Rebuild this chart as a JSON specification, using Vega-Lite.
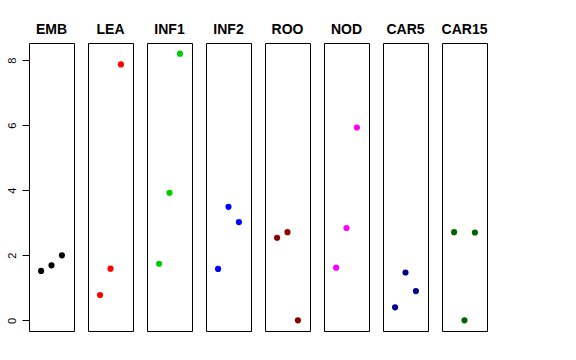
{
  "$schema": "https://vega.github.io/schema/vega-lite/v6.json",
  "padding": {"left": 6, "top": 23, "right": 5, "bottom": 5},
  "bounds": "flush",
  "background": "white",
  "data": {"values": [
    {"panel": "EMB", "x": 1, "y": 1.52},
    {"panel": "EMB", "x": 2, "y": 1.69},
    {"panel": "EMB", "x": 3, "y": 2.0},
    {"panel": "LEA", "x": 1, "y": 0.78},
    {"panel": "LEA", "x": 2, "y": 1.59},
    {"panel": "LEA", "x": 3, "y": 7.87},
    {"panel": "INF1", "x": 1, "y": 1.74},
    {"panel": "INF1", "x": 2, "y": 3.92},
    {"panel": "INF1", "x": 3, "y": 8.2},
    {"panel": "INF2", "x": 1, "y": 1.58},
    {"panel": "INF2", "x": 2, "y": 3.49},
    {"panel": "INF2", "x": 3, "y": 3.02},
    {"panel": "ROO", "x": 1, "y": 2.54},
    {"panel": "ROO", "x": 2, "y": 2.71},
    {"panel": "ROO", "x": 3, "y": 0.0},
    {"panel": "NOD", "x": 1, "y": 1.62},
    {"panel": "NOD", "x": 2, "y": 2.84},
    {"panel": "NOD", "x": 3, "y": 5.93},
    {"panel": "CAR5", "x": 1, "y": 0.40},
    {"panel": "CAR5", "x": 2, "y": 1.47},
    {"panel": "CAR5", "x": 3, "y": 0.90},
    {"panel": "CAR15", "x": 1, "y": 2.71},
    {"panel": "CAR15", "x": 2, "y": 0.0},
    {"panel": "CAR15", "x": 3, "y": 2.70}
  ]},
  "facet": {
    "column": {
      "field": "panel",
      "type": "nominal",
      "sort": ["EMB", "LEA", "INF1", "INF2", "ROO", "NOD", "CAR5", "CAR15"],
      "title": null,
      "header": {
        "labelFont": "Liberation Sans",
        "labelFontSize": 14,
        "labelFontWeight": "bold",
        "labelColor": "black",
        "labelPadding": -5,
        "labelBaseline": "alphabetic"
      }
    }
  },
  "spacing": 14,
  "spec": {
    "width": 45,
    "height": 288,
    "mark": {"type": "circle", "size": 38, "opacity": 1},
    "encoding": {
      "x": {"field": "x", "type": "quantitative", "scale": {"domain": [-0.16, 4.16], "nice": false, "zero": false}, "axis": null},
      "y": {
        "field": "y", "type": "quantitative",
        "scale": {"domain": [-0.328, 8.528], "nice": false, "zero": false},
        "axis": {
          "title": null, "values": [0, 2, 4, 6, 8], "grid": false, "domain": false,
          "tickSize": 7, "tickColor": "black", "labelColor": "black",
          "labelFont": "Liberation Sans", "labelFontSize": 11,
          "labelAngle": 270, "labelAlign": "center", "labelBaseline": "bottom",
          "labelPadding": 5
        }
      },
      "color": {
        "field": "panel", "type": "nominal",
        "scale": {
          "domain": ["EMB", "LEA", "INF1", "INF2", "ROO", "NOD", "CAR5", "CAR15"],
          "range": ["#000000", "#FF0000", "#00CD00", "#0000FF", "#8B0000", "#FF00FF", "#00008B", "#006400"]
        },
        "legend": null
      }
    }
  },
  "config": {
    "view": {"stroke": "black", "strokeWidth": 1}
  }
}
